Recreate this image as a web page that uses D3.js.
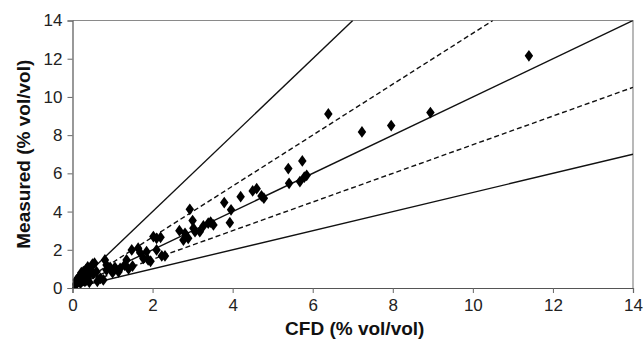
<!DOCTYPE html>
<html><head><meta charset="utf-8">
<script src="https://cdn.jsdelivr.net/npm/d3@7"></script>
<style>html,body{margin:0;padding:0;background:#fff;}</style>
</head><body>
<svg id="chart" width="643" height="347"></svg>
<script>
const xTicks = [0,2,4,6,8,10,12,14];
const yTicks = [0,2,4,6,8,10,12,14];
const xTitle = "CFD (% vol/vol)";
const yTitle = "Measured (% vol/vol)";
const cfd = [0.05,0.08,0.1,0.12,0.15,0.19,0.2,0.22,0.25,0.27,0.3,0.31,0.33,0.35,0.38,0.4,0.42,0.45,0.5,0.52,0.55,0.6,0.62,0.7,0.77,0.81,0.85,0.85,0.94,1.0,1.06,1.15,1.19,1.3,1.35,1.4,1.48,1.5,1.64,1.69,1.77,1.85,1.89,1.95,2.02,2.1,2.1,2.2,2.23,2.31,2.67,2.77,2.81,2.89,2.93,3.0,3.02,3.06,3.18,3.27,3.39,3.45,3.52,3.79,3.93,3.96,4.2,4.5,4.6,4.72,4.78,5.39,5.41,5.68,5.74,5.79,5.85,6.39,7.23,7.96,8.94,11.4];
const measured = [0.1,0.2,0.42,0.3,0.55,0.6,0.25,0.8,0.45,0.85,0.7,0.35,0.95,0.42,1.1,0.6,0.3,0.95,1.25,0.75,1.3,0.85,0.35,0.5,0.42,1.47,0.94,1.2,1.08,0.8,1.08,0.85,1.03,1.2,1.47,1.0,1.99,1.15,2.08,1.85,1.55,1.9,1.47,1.4,2.69,2.6,1.99,2.65,1.68,1.68,3.0,2.51,2.86,2.6,4.12,3.53,3.13,2.95,2.95,3.25,3.39,3.45,3.3,4.47,3.42,4.09,4.78,5.08,5.2,4.82,4.7,6.25,5.48,5.57,6.65,5.8,5.9,9.11,8.17,8.5,9.18,12.15];
const refSlopes = [2, 4/3, 1, 3/4, 0.5];
const refDashed = [false, true, false, true, false];

const svg = d3.select("#chart");
const m = {l:72.5, t:20.5};
const x = d3.scaleLinear().domain([0,14]).range([m.l, 633]);
const y = d3.scaleLinear().domain([0,14]).range([288, m.t]);

svg.append("defs").append("clipPath").attr("id","clip")
  .append("rect").attr("x",x(0)).attr("y",y(14)).attr("width",x(14)-x(0)).attr("height",y(0)-y(14));

svg.append("path").attr("d",`M${x(0)},${y(14)}H${x(14)}V${y(0)}`)
  .attr("fill","none").attr("stroke","#8a8a8a").attr("stroke-width",1.2);

const g = svg.append("g").attr("clip-path","url(#clip)");
refSlopes.forEach((s,i)=>{
  const xe = Math.min(14, 14/s);
  g.append("line").attr("x1",x(0)).attr("y1",y(0)).attr("x2",x(xe)).attr("y2",y(xe*s))
    .attr("stroke","#111").attr("stroke-width",1.4)
    .attr("stroke-dasharray", refDashed[i] ? "5,3" : null);
});

const pts = cfd.map((v,i)=>({x:v,y:measured[i]}));
const sym = d3.symbol().type(d3.symbolDiamond).size(40);
g.selectAll(".pt").data(pts).enter().append("path")
  .attr("transform",d=>`translate(${x(d.x)},${y(d.y)}) scale(1.25,1)`)
  .attr("d",sym).attr("fill","#000");

const xAxis = svg.append("g").attr("transform",`translate(0,${y(0)})`)
  .call(d3.axisBottom(x).tickValues(xTicks).tickSize(5).tickPadding(6).tickFormat(d3.format("d")));
const yAxis = svg.append("g").attr("transform",`translate(${x(0)},0)`)
  .call(d3.axisLeft(y).tickValues(yTicks).tickSize(5).tickPadding(5).tickFormat(d3.format("d")));
[xAxis,yAxis].forEach(a=>{
  a.select(".domain").attr("stroke","#555").attr("stroke-width",1.2);
  a.selectAll(".tick line").attr("stroke","#666");
  a.selectAll("text").attr("font-family","Liberation Sans, Arial, sans-serif").attr("font-size",17).attr("fill","#222");
});

svg.append("text").attr("x",(x(0)+x(14))/2+2).attr("y",335)
  .attr("text-anchor","middle").attr("font-family","Liberation Sans, Arial, sans-serif")
  .attr("font-weight","bold").attr("font-size",19).attr("fill","#111").text(xTitle);
svg.append("text").attr("transform",`translate(30,${(y(0)+y(14))/2}) rotate(-90)`)
  .attr("text-anchor","middle").attr("font-family","Liberation Sans, Arial, sans-serif")
  .attr("font-weight","bold").attr("font-size",19).attr("fill","#111").text(yTitle);
</script>
</body></html>
